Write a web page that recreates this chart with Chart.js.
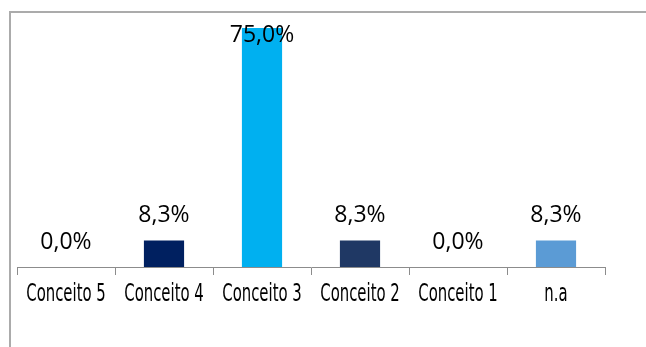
<!DOCTYPE html>
<html>
<head>
<meta charset="utf-8">
<script src="https://cdn.jsdelivr.net/npm/chart.js@4"></script>
<style>
  html, body { margin: 0; padding: 0; background: #fff; }
  #wrap { position: relative; width: 646px; height: 347px; overflow: hidden; }
  #grafico { position: absolute; left: 0; top: 0; }
  #moldura {
    position: absolute; left: 9px; top: 11px; right: -10px; bottom: -10px;
    border-top: 2px solid #ababab; border-left: 2px solid #ababab;
    pointer-events: none;
  }
</style>
</head>
<body>
<div id="wrap">
  <canvas id="grafico" width="646" height="347"></canvas>
  <div id="moldura"></div>
</div>
<script>
// Dados do gráfico
const categorias = ['Conceito 5', 'Conceito 4', 'Conceito 3', 'Conceito 2', 'Conceito 1', 'n.a'];
const valores = [0.0, 8.3, 75.0, 8.3, 0.0, 8.3];
const cores = ['#002060', '#002060', '#00B0F0', '#1F3864', '#5B9BD5', '#5B9BD5'];

// Rótulos de dados (formato 0,0%)
const rotulosDados = {
  id: 'rotulosDados',
  afterDatasetsDraw(chart) {
    const ctx = chart.ctx;
    const meta = chart.getDatasetMeta(0);
    ctx.save();
    ctx.font = '23px "Open Sans"';
    ctx.fillStyle = '#000';
    ctx.textAlign = 'center';
    ctx.textBaseline = 'middle';
    meta.data.forEach((barra, i) => {
      const texto = valores[i].toFixed(1).replace('.', ',') + '%';
      const y = Math.max(barra.y - 25, chart.chartArea.top + 23);
      ctx.fillText(texto, barra.x, y);
    });
    ctx.restore();
  }
};

// Rótulos do eixo X em fonte estreita
const rotulosEixo = {
  id: 'rotulosEixo',
  afterDraw(chart) {
    const ctx = chart.ctx;
    const eixo = chart.scales.x;
    ctx.save();
    ctx.font = '24px "DejaVu Sans"';
    ctx.fillStyle = '#000';
    ctx.textAlign = 'center';
    ctx.textBaseline = 'middle';
    categorias.forEach((nome, i) => {
      const x = eixo.getPixelForTick(i);
      ctx.save();
      ctx.translate(x, eixo.bottom + 20);
      ctx.scale(0.62, 1);
      ctx.fillText(nome, 0, 0);
      ctx.restore();
    });
    ctx.restore();
  }
};

const ctx = document.getElementById('grafico').getContext('2d');
new Chart(ctx, {
  type: 'bar',
  data: {
    labels: categorias,
    datasets: [{
      data: valores,
      backgroundColor: cores,
      borderWidth: 0,
      barPercentage: 0.41,
      categoryPercentage: 1.0
    }]
  },
  options: {
    responsive: false,
    animation: false,
    devicePixelRatio: 1,
    layout: { padding: { left: 17, right: 41, top: 12, bottom: 72 } },
    plugins: {
      legend: { display: false },
      tooltip: { enabled: false },
      title: { display: false }
    },
    scales: {
      x: {
        grid: { drawOnChartArea: false, drawTicks: true, tickLength: 8, color: '#8c8c8c', offset: true },
        border: { display: true, color: '#8c8c8c', width: 1 },
        ticks: { display: false }
      },
      y: {
        display: false,
        min: 0,
        max: 80
      }
    }
  },
  plugins: [rotulosDados, rotulosEixo]
});
</script>
</body>
</html>
